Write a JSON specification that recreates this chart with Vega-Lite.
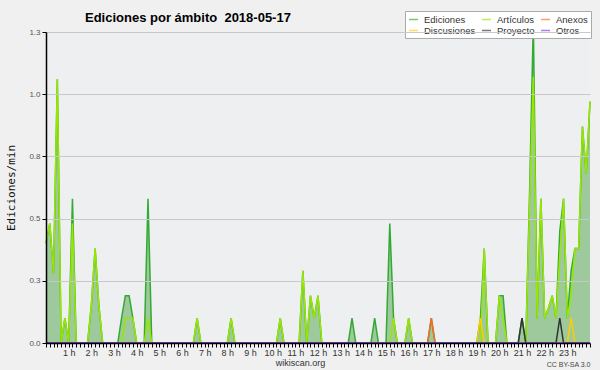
{
  "$schema": "https://vega.github.io/schema/vega-lite/v6.json",
  "width": 544,
  "height": 311,
  "autosize": {"type": "none"},
  "padding": {"left": 46, "top": 32, "right": 10, "bottom": 27},
  "background": "#f0f0f0",
  "config": {
    "font": "Liberation Sans",
    "view": {"fill": "#eeeff1", "stroke": null},
    "legend": {"orient": "none", "legendX": 359, "legendY": -21, "columns": 3, "direction": "horizontal", "symbolType": "stroke", "symbolSize": 81, "symbolStrokeWidth": 1.5, "symbolOpacity": 0.65,
      "labelFontSize": 9.5, "labelColor": "#333333", "labelBaseline": "middle", "fillColor": "#ffffff", "strokeColor": "#aaaaaa", "padding": 3, "rowPadding": 1, "columnPadding": 3, "labelOffset": 5, "labelLimit": 200}
  },
  "title": {"text": "Ediciones por ámbito\u00a0\u00a02018-05-17", "anchor": "start", "frame": "group", "dx": 39, "dy": 37, "offset": 13, "baseline": "alphabetic", "font": "Liberation Sans", "fontSize": 13, "fontWeight": "bold", "color": "#000000"},
  "datasets": {
    "main": [
      {"m":0,"e":0.4,"a":0.4},{"m":10,"e":0.48,"a":0.48},{"m":20,"e":0.28,"a":0.28},{"m":30,"e":1.06,"a":1.06},{"m":40,"e":0,"a":0},{"m":50,"e":0.1,"a":0.1},
      {"m":60,"e":0,"a":0},{"m":70,"e":0.58,"a":0.48},{"m":80,"e":0,"a":0},{"m":90,"e":0,"a":0},{"m":100,"e":0,"a":0},{"m":110,"e":0,"a":0},
      {"m":120,"e":0.15,"a":0.15},{"m":130,"e":0.38,"a":0.38},{"m":140,"e":0.15,"a":0.15},{"m":150,"e":0,"a":0},{"m":160,"e":0,"a":0},{"m":170,"e":0,"a":0},
      {"m":180,"e":0,"a":0},{"m":190,"e":0,"a":0},{"m":200,"e":0.1,"a":0},{"m":210,"e":0.19,"a":0.1},{"m":220,"e":0.19,"a":0.1},{"m":230,"e":0.1,"a":0.1},
      {"m":240,"e":0,"a":0},{"m":250,"e":0,"a":0},{"m":260,"e":0,"a":0},{"m":270,"e":0.58,"a":0.1},{"m":280,"e":0,"a":0},{"m":290,"e":0,"a":0},
      {"m":300,"e":0,"a":0},{"m":310,"e":0,"a":0},{"m":320,"e":0,"a":0},{"m":330,"e":0,"a":0},{"m":340,"e":0,"a":0},{"m":350,"e":0,"a":0},
      {"m":360,"e":0,"a":0},{"m":370,"e":0,"a":0},{"m":380,"e":0,"a":0},{"m":390,"e":0,"a":0},{"m":400,"e":0.1,"a":0.1},{"m":410,"e":0,"a":0},
      {"m":420,"e":0,"a":0},{"m":430,"e":0,"a":0},{"m":440,"e":0,"a":0},{"m":450,"e":0,"a":0},{"m":460,"e":0,"a":0},{"m":470,"e":0,"a":0},
      {"m":480,"e":0,"a":0},{"m":490,"e":0.1,"a":0.1},{"m":500,"e":0,"a":0},{"m":510,"e":0,"a":0},{"m":520,"e":0,"a":0},{"m":530,"e":0,"a":0},
      {"m":540,"e":0,"a":0},{"m":550,"e":0,"a":0},{"m":560,"e":0,"a":0},{"m":570,"e":0,"a":0},{"m":580,"e":0,"a":0},{"m":590,"e":0,"a":0},
      {"m":600,"e":0,"a":0},{"m":610,"e":0,"a":0},{"m":620,"e":0.1,"a":0.1},{"m":630,"e":0,"a":0},{"m":640,"e":0,"a":0},{"m":650,"e":0,"a":0},
      {"m":660,"e":0,"a":0},{"m":670,"e":0,"a":0},{"m":680,"e":0.29,"a":0.29},{"m":690,"e":0,"a":0},{"m":700,"e":0.19,"a":0.19},{"m":710,"e":0.1,"a":0.1},
      {"m":720,"e":0.19,"a":0.19},{"m":730,"e":0,"a":0},{"m":740,"e":0,"a":0},{"m":750,"e":0,"a":0},{"m":760,"e":0,"a":0},{"m":770,"e":0,"a":0},
      {"m":780,"e":0,"a":0},{"m":790,"e":0,"a":0},{"m":800,"e":0,"a":0},{"m":810,"e":0.1,"a":0},{"m":820,"e":0,"a":0},{"m":830,"e":0,"a":0},
      {"m":840,"e":0,"a":0},{"m":850,"e":0,"a":0},{"m":860,"e":0,"a":0},{"m":870,"e":0.1,"a":0},{"m":880,"e":0,"a":0},{"m":890,"e":0,"a":0},
      {"m":900,"e":0,"a":0},{"m":910,"e":0.48,"a":0},{"m":920,"e":0.1,"a":0.1},{"m":930,"e":0,"a":0},{"m":940,"e":0,"a":0},{"m":950,"e":0,"a":0},
      {"m":960,"e":0.1,"a":0.1},{"m":970,"e":0,"a":0},{"m":980,"e":0,"a":0},{"m":990,"e":0,"a":0},{"m":1000,"e":0,"a":0},{"m":1010,"e":0,"a":0},
      {"m":1020,"e":0.1,"a":0},{"m":1030,"e":0,"a":0},{"m":1040,"e":0,"a":0},{"m":1050,"e":0,"a":0},{"m":1060,"e":0,"a":0},{"m":1070,"e":0,"a":0},
      {"m":1080,"e":0,"a":0},{"m":1090,"e":0,"a":0},{"m":1100,"e":0,"a":0},{"m":1110,"e":0,"a":0},{"m":1120,"e":0,"a":0},{"m":1130,"e":0,"a":0},
      {"m":1140,"e":0,"a":0},{"m":1150,"e":0.1,"a":0},{"m":1160,"e":0.38,"a":0.38},{"m":1170,"e":0,"a":0},{"m":1180,"e":0,"a":0},{"m":1190,"e":0,"a":0},
      {"m":1200,"e":0.19,"a":0.19},{"m":1210,"e":0.19,"a":0.1},{"m":1220,"e":0,"a":0},{"m":1230,"e":0,"a":0},{"m":1240,"e":0,"a":0},{"m":1250,"e":0,"a":0},
      {"m":1260,"e":0.1,"a":0},{"m":1270,"e":0,"a":0},{"m":1280,"e":0.6,"a":0.55},{"m":1290,"e":1.29,"a":1.07},{"m":1300,"e":0.1,"a":0.1},{"m":1310,"e":0.58,"a":0.58},
      {"m":1320,"e":0.1,"a":0.1},{"m":1330,"e":0.14,"a":0.14},{"m":1340,"e":0.19,"a":0.19},{"m":1350,"e":0.1,"a":0.1},{"m":1360,"e":0.45,"a":0.35},{"m":1370,"e":0.58,"a":0.58},
      {"m":1380,"e":0.1,"a":0.1},{"m":1390,"e":0.29,"a":0.19},{"m":1400,"e":0.38,"a":0.38},{"m":1410,"e":0.38,"a":0.38},{"m":1420,"e":0.87,"a":0.87},{"m":1430,"e":0.68,"a":0.68},
      {"m":1440,"e":0.97,"a":0.97}
    ],
    "otros": [
      {"s":"Anexos","m":0,"v":0},{"s":"Anexos","m":1010,"v":0},{"s":"Anexos","m":1020,"v":0.1},{"s":"Anexos","m":1030,"v":0},{"s":"Anexos","m":1440,"v":0},
      {"s":"Discusiones","m":0,"v":0},{"s":"Discusiones","m":1140,"v":0},{"s":"Discusiones","m":1150,"v":0.1},{"s":"Discusiones","m":1160,"v":0},{"s":"Discusiones","m":1380,"v":0},{"s":"Discusiones","m":1390,"v":0.1},{"s":"Discusiones","m":1400,"v":0},{"s":"Discusiones","m":1440,"v":0},
      {"s":"Proyecto","m":0,"v":0},{"s":"Proyecto","m":1250,"v":0},{"s":"Proyecto","m":1260,"v":0.1},{"s":"Proyecto","m":1270,"v":0},{"s":"Proyecto","m":1350,"v":0},{"s":"Proyecto","m":1360,"v":0.1},{"s":"Proyecto","m":1370,"v":0},{"s":"Proyecto","m":1440,"v":0},
      {"s":"Otros","m":0,"v":0},{"s":"Otros","m":1440,"v":0}
    ]
  },
  "layer": [
    {
      "data": {"name": "main"},
      "mark": {"type": "area", "color": "#4ca349", "opacity": 0.5},
      "encoding": {
        "x": {"field": "m", "type": "quantitative", "scale": {"domain": [0, 1440], "nice": false, "zero": false},
          "axis": {
            "values": [0,10,20,30,40,50,60,70,80,90,100,110,120,130,140,150,160,170,180,190,200,210,220,230,240,250,260,270,280,290,300,310,320,330,340,350,360,370,380,390,400,410,420,430,440,450,460,470,480,490,500,510,520,530,540,550,560,570,580,590,600,610,620,630,640,650,660,670,680,690,700,710,720,730,740,750,760,770,780,790,800,810,820,830,840,850,860,870,880,890,900,910,920,930,940,950,960,970,980,990,1000,1010,1020,1030,1040,1050,1060,1070,1080,1090,1100,1110,1120,1130,1140,1150,1160,1170,1180,1190,1200,1210,1220,1230,1240,1250,1260,1270,1280,1290,1300,1310,1320,1330,1340,1350,1360,1370,1380,1390,1400,1410,1420,1430,1440],
            "labelExpr": "datum.value == 1440 ? 'CC BY-SA 3.0' : (datum.value % 60 == 0 && datum.value > 0 ? (datum.value / 60) + ' h' : '')",
            "labelFontSize": {"condition": {"test": "datum.value == 1440", "value": 7}, "value": 9},
            "labelColor": {"condition": {"test": "datum.value == 1440", "value": "#444444"}, "value": "#333333"},
            "labelAlign": {"condition": {"test": "datum.value == 1440", "value": "right"}, "value": "center"},
            "labelPadding": {"condition": {"test": "datum.value == 1440", "value": 13}, "value": 1},
            "labelOverlap": false, "labelFlush": false,
            "tickSize": 4, "tickColor": "#000000", "domainColor": "#000000", "domainWidth": 1.5, "grid": false, "zindex": 1,
            "title": "wikiscan.org", "titleFontSize": 9, "titleFontWeight": "normal", "titleColor": "#333333",
            "titleX": 254, "titleY": 22, "titleAlign": "center", "titleBaseline": "alphabetic"
          }
        },
        "y": {"field": "e", "type": "quantitative", "scale": {"domain": [0, 1.25], "nice": false},
          "axis": {
            "values": [0,0.0625,0.125,0.1875,0.25,0.3125,0.375,0.4375,0.5,0.5625,0.625,0.6875,0.75,0.8125,0.875,0.9375,1,1.0625,1.125,1.1875,1.25],
            "labelExpr": "abs(datum.value * 4 - round(datum.value * 4)) < 0.001 ? format(datum.value, '.1f') : ''",
            "labelFontSize": 8, "labelColor": "#555555", "labelPadding": 2, "labelOverlap": false, "labelFlush": false,
            "tickSize": 4, "tickColor": "#000000", "domainColor": "#000000", "domainWidth": 1.5,
            "grid": true, "gridColor": "#c8c8c8",
            "gridOpacity": {"condition": {"test": "abs(datum.value * 4 - round(datum.value * 4)) < 0.001 && datum.value > 0", "value": 1}, "value": 0},
            "zindex": 1,
            "title": "Ediciones/min", "titleFont": "DejaVu Sans Mono", "titleFontSize": 11, "titleFontWeight": "normal", "titleColor": "#111111", "titlePadding": 12
          }
        }
      }
    },
    {
      "data": {"name": "main"},
      "mark": {"type": "line", "strokeWidth": 1.5},
      "encoding": {
        "x": {"field": "m", "type": "quantitative", "scale": {"domain": [0, 1440], "nice": false, "zero": false}, "axis": null},
        "y": {"field": "e", "type": "quantitative", "scale": {"domain": [0, 1.25], "nice": false}},
        "color": {"datum": "Ediciones", "type": "nominal",
          "scale": {"domain": ["Ediciones", "Artículos", "Anexos", "Discusiones", "Proyecto", "Otros"], "range": ["#33aa33", "#99e600", "#ff6622", "#ffcc00", "#333333", "#8833ee"]},
          "legend": {"title": null}
        }
      }
    },
    {
      "data": {"name": "main"},
      "mark": {"type": "line", "strokeWidth": 1.5},
      "encoding": {
        "x": {"field": "m", "type": "quantitative", "scale": {"domain": [0, 1440], "nice": false, "zero": false}, "axis": null},
        "y": {"field": "a", "type": "quantitative", "scale": {"domain": [0, 1.25], "nice": false}},
        "color": {"datum": "Artículos", "type": "nominal", "legend": {"title": null}}
      }
    },
    {
      "data": {"name": "otros"},
      "mark": {"type": "line", "strokeWidth": 1.5},
      "encoding": {
        "x": {"field": "m", "type": "quantitative", "scale": {"domain": [0, 1440], "nice": false, "zero": false}, "axis": null},
        "y": {"field": "v", "type": "quantitative", "scale": {"domain": [0, 1.25], "nice": false}},
        "color": {"field": "s", "type": "nominal", "legend": {"title": null}}
      }
    }
  ],
  "resolve": {"axis": {"x": "independent"}}
}
